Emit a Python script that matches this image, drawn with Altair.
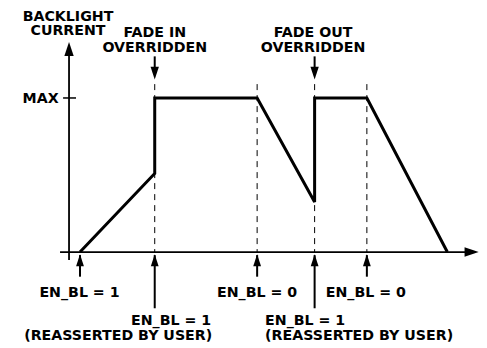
import altair as alt
import pandas as pd

# ---- data (time units, current level with MAX = 1) ----
trace_t = [1.05, 8.2, 8.2, 18.0, 23.5, 23.5, 28.5, 36.2]
trace_level = [0.0, 0.51, 1.0, 1.0, 0.325, 1.0, 1.0, 0.0]
event_t = [8.2, 18.0, 23.5, 28.5]          # dashed guide lines
up_arrow_t = [1.05, 8.2, 18.0, 23.5, 28.5]  # EN_BL event arrows
up_arrow_end = [-0.16, -0.365, -0.16, -0.365, -0.16]
fade_t = [8.2, 23.5]

center_labels = ["BACKLIGHT", "CURRENT", "FADE IN", "OVERRIDDEN", "FADE OUT", "OVERRIDDEN",
                 "EN_BL = 1", "EN_BL = 0", "EN_BL = 0"]
center_t = [-0.1, -0.1, 8.2, 8.2, 23.35, 23.35, 1.0, 18.0, 28.4]
center_lvl = [1.535, 1.44, 1.429, 1.331, 1.429, 1.331, -0.26, -0.26, -0.26]

right_labels = ["MAX", "EN_BL = 1", "(REASSERTED BY USER)"]
right_t = [-1.0, 13.6, 13.7]
right_lvl = [1.0, -0.44, -0.536]

left_labels = ["EN_BL = 1", "(REASSERTED BY USER)"]
left_t = [18.76, 18.76]
left_lvl = [-0.44, -0.536]

W, H = 471, 340
X = alt.Scale(domain=[-5.84, 39.23], nice=False, zero=False)
Y = alt.Scale(domain=[-0.6229, 1.584], nice=False, zero=False)
FONT = "DejaVu Sans"
ARROW = "M0,0L0.33,1L-0.33,1Z"


def xe(f="t"):
    return alt.X(f"{f}:Q", scale=X, axis=None)


def ye(f="lvl"):
    return alt.Y(f"{f}:Q", scale=Y, axis=None)


trace = pd.DataFrame({"t": trace_t, "lvl": trace_level, "i": range(len(trace_t))})
events = pd.DataFrame({"t": event_t, "lvl": [1.09] * len(event_t), "lvl2": [0.0] * len(event_t)})
upshaft = pd.DataFrame({"t": up_arrow_t, "lvl": [-0.02] * len(up_arrow_t), "lvl2": up_arrow_end})
uphead = pd.DataFrame({"t": up_arrow_t, "lvl": [-0.015] * len(up_arrow_t), "a": [0] * len(up_arrow_t)})
fadeshaft = pd.DataFrame({"t": fade_t, "lvl": [1.27] * 2, "lvl2": [1.15] * 2})
fadehead = pd.DataFrame({"t": fade_t, "lvl": [1.12] * 2, "a": [180] * 2})

yaxis = pd.DataFrame({"t": [0.0], "lvl": [-0.052], "lvl2": [1.30]})
xaxis = pd.DataFrame({"t": [-0.86], "t2": [38.4], "lvl": [0.0]})
maxtick = pd.DataFrame({"t": [-0.57], "t2": [0.67], "lvl": [1.0]})
axis_heads = pd.DataFrame({"t": [0.0, 39.2], "lvl": [1.364, 0.0], "a": [0, 90]})

cl = pd.DataFrame({"t": center_t, "lvl": center_lvl, "s": center_labels})
rl = pd.DataFrame({"t": right_t, "lvl": right_lvl, "s": right_labels})
ll = pd.DataFrame({"t": left_t, "lvl": left_lvl, "s": left_labels})

layers = [
    alt.Chart(events).mark_rule(color="black", strokeWidth=1, strokeDash=[6, 5]).encode(
        x=xe(), y=ye(), y2="lvl2:Q"),
    alt.Chart(yaxis).mark_rule(color="black", strokeWidth=1.8).encode(x=xe(), y=ye(), y2="lvl2:Q"),
    alt.Chart(xaxis).mark_rule(color="black", strokeWidth=1.8).encode(x=xe(), x2="t2:Q", y=ye()),
    alt.Chart(maxtick).mark_rule(color="black", strokeWidth=1.5).encode(x=xe(), x2="t2:Q", y=ye()),
    alt.Chart(upshaft).mark_rule(color="black", strokeWidth=2).encode(x=xe(), y=ye(), y2="lvl2:Q"),
    alt.Chart(fadeshaft).mark_rule(color="black", strokeWidth=2).encode(x=xe(), y=ye(), y2="lvl2:Q"),
    alt.Chart(uphead).mark_point(shape=ARROW, filled=True, color="black", opacity=1, size=560).encode(
        x=xe(), y=ye(), angle=alt.Angle("a:Q", scale=None)),
    alt.Chart(fadehead).mark_point(shape=ARROW, filled=True, color="black", opacity=1, size=640).encode(
        x=xe(), y=ye(), angle=alt.Angle("a:Q", scale=None)),
    alt.Chart(axis_heads).mark_point(shape=ARROW, filled=True, color="black", opacity=1, size=800).encode(
        x=xe(), y=ye(), angle=alt.Angle("a:Q", scale=None)),
    alt.Chart(trace).mark_line(color="black", strokeWidth=3, strokeJoin="miter", strokeCap="butt").encode(
        x=xe(), y=ye(), order="i:Q"),
]
for df, al in [(cl, "center"), (rl, "right"), (ll, "left")]:
    layers.append(
        alt.Chart(df).mark_text(font=FONT, fontSize=14.2, fontWeight="bold", color="black",
                                align=al, baseline="alphabetic", dy=5.2).encode(
            x=xe(), y=ye(), text="s:N"))

chart = alt.layer(*layers).properties(
    width=W, height=H, autosize=alt.AutoSizeParams(type="none"), padding=0,
    background="white"
).configure_view(stroke=None)

chart.save("out.html", embed_options={"renderer": "svg", "actions": False})
